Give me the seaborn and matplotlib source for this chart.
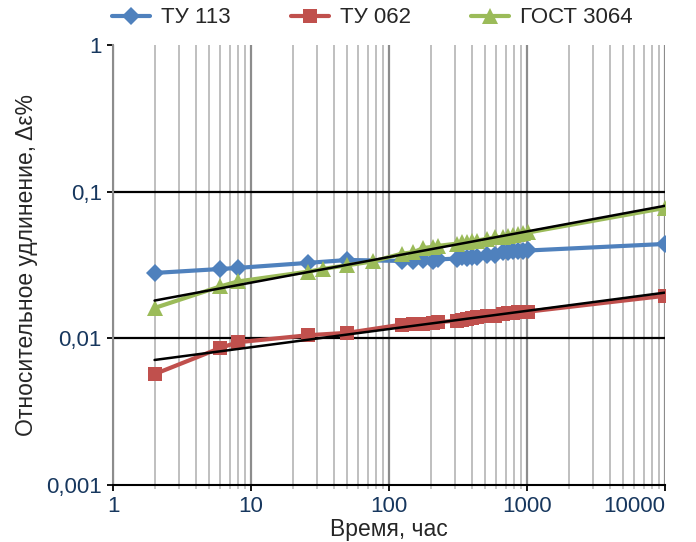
import numpy as np
import pandas as pd
import matplotlib
matplotlib.use("Agg")
import matplotlib.pyplot as plt
import seaborn as sns
from matplotlib.ticker import FixedLocator, FixedFormatter, LogLocator, NullFormatter

sns.set_theme(style="white")
plt.rcParams["font.family"] = ["Liberation Sans", "DejaVu Sans"]

# data (hours vs relative elongation, %)
hours = [2, 6, 8, 26, 50, 124, 150, 177, 210, 228, 309, 336, 366, 397, 432,
         511, 587, 674, 733, 796, 865, 940, 1022, 10000]
hours_gost = [2, 6, 8, 26, 33, 50, 77, 124, 150, 177, 210, 228, 309, 336, 366,
              397, 432, 511, 587, 674, 733, 796, 865, 940, 1022, 10000]
tu113 = [0.0279, 0.0297, 0.0302, 0.0327, 0.0342, 0.0337, 0.0335, 0.0340,
         0.0338, 0.0345, 0.0350, 0.0357, 0.0355, 0.0360, 0.0358, 0.0370,
         0.0368, 0.0385, 0.0390, 0.0392, 0.0395, 0.0393, 0.0397, 0.0440]
tu062 = [0.0057, 0.0086, 0.0094, 0.0105, 0.0109, 0.0124, 0.0125, 0.0126,
         0.0128, 0.0129, 0.0132, 0.0133, 0.0135, 0.0137, 0.0139, 0.0141,
         0.0143, 0.0146, 0.0148, 0.0149, 0.0150, 0.0151, 0.0152, 0.0195]
gost3064 = [0.0161, 0.0226, 0.0244, 0.0285, 0.0297, 0.0315, 0.0335, 0.0378,
            0.0386, 0.0413, 0.0421, 0.0427, 0.0442, 0.0452, 0.0454, 0.0459,
            0.0464, 0.0477, 0.0487, 0.0492, 0.0502, 0.0508, 0.0513, 0.0519,
            0.0527, 0.0775]

series_names = ["ТУ 113", "ТУ 062", "ГОСТ 3064"]
colors = ["#4F81BD", "#C0504D", "#9BBB59"]
markers = ["D", "s", "^"]
msizes = [9, 10, 11]

y_ticks = [0.001, 0.01, 0.1, 1]
y_tick_labels = ["0,001", "0,01", "0,1", "1"]
x_ticks = [1, 10, 100, 1000, 10000]
x_tick_labels = ["1", "10", "100", "1000", "10000"]

df = pd.concat([
    pd.DataFrame({"t": hours, "v": tu113, "series": series_names[0]}),
    pd.DataFrame({"t": hours, "v": tu062, "series": series_names[1]}),
    pd.DataFrame({"t": hours_gost, "v": gost3064, "series": series_names[2]}),
])

fig = plt.figure(figsize=(6.96, 5.42), dpi=100)
ax = fig.add_axes([0.1624, 0.1052, 0.7931, 0.8118])
ax.set_xscale("log")
ax.set_yscale("log")

for name, c, m, ms in zip(series_names, colors, markers, msizes):
    sub = df[df["series"] == name]
    sns.lineplot(data=sub, x="t", y="v", ax=ax, color=c, marker=m,
                 markersize=ms, markeredgewidth=0, lw=3, label=name,
                 estimator=None, zorder=3)

# power trendlines for ТУ 062 and ГОСТ 3064
for name in ["ТУ 062", "ГОСТ 3064"]:
    sub = df[df["series"] == name]
    k, b = np.polyfit(np.log10(sub["t"]), np.log10(sub["v"]), 1)
    tt = np.logspace(np.log10(sub["t"].min()), np.log10(sub["t"].max()), 50)
    ax.plot(tt, 10 ** (k * np.log10(tt) + b), color="black", lw=1.8, zorder=4)

ax.set_xlim(1, 10000)
ax.set_ylim(0.001, 1)

ax.xaxis.set_major_locator(FixedLocator(x_ticks))
ax.xaxis.set_major_formatter(FixedFormatter(x_tick_labels))
ax.xaxis.set_minor_locator(LogLocator(base=10, subs=np.arange(2, 10)))
ax.xaxis.set_minor_formatter(NullFormatter())
ax.yaxis.set_major_locator(FixedLocator(y_ticks))
ax.yaxis.set_major_formatter(FixedFormatter(y_tick_labels))
ax.yaxis.set_minor_locator(FixedLocator([]))

ax.set_axisbelow(True)
ax.grid(which="major", axis="x", color="#8C8C8C", lw=1.6)
ax.grid(which="minor", axis="x", color="#BFBFBF", lw=1.4)
for yv in y_ticks[1:-1]:
    ax.axhline(yv, color="black", lw=1.6, zorder=1)

for s in ["top", "right"]:
    ax.spines[s].set_visible(False)
ax.spines["left"].set_color("#8C8C8C")
ax.spines["left"].set_linewidth(1.5)
ax.spines["bottom"].set_color("black")
ax.spines["bottom"].set_linewidth(1.5)

ax.tick_params(axis="both", which="major", labelsize=16, labelcolor="#17375E",
               direction="out", length=4, width=1.3, color="black", left=True,
               bottom=True, pad=4)
ax.tick_params(axis="x", which="minor", direction="out", length=3, width=1.2,
               color="#BFBFBF", bottom=True)
# keep the last x label inside the figure, as in the reference
ax.get_xticklabels()[-1].set_horizontalalignment("right")

ax.set_xlabel("Время, час", fontsize=16.5, color="#262626", labelpad=1)
ax.set_ylabel("Относительное удлинение, Δε%", fontsize=16.5, color="#262626",
              labelpad=6)

handles, labels = ax.get_legend_handles_labels()
ax.get_legend().remove()
fig.legend(handles, labels, loc="center", bbox_to_anchor=(0.535, 0.967),
           ncol=3, frameon=False, fontsize=16, handlelength=1.7,
           handletextpad=0.5, columnspacing=2.7, labelcolor="#262626")

fig.savefig("out.png", dpi=100)
